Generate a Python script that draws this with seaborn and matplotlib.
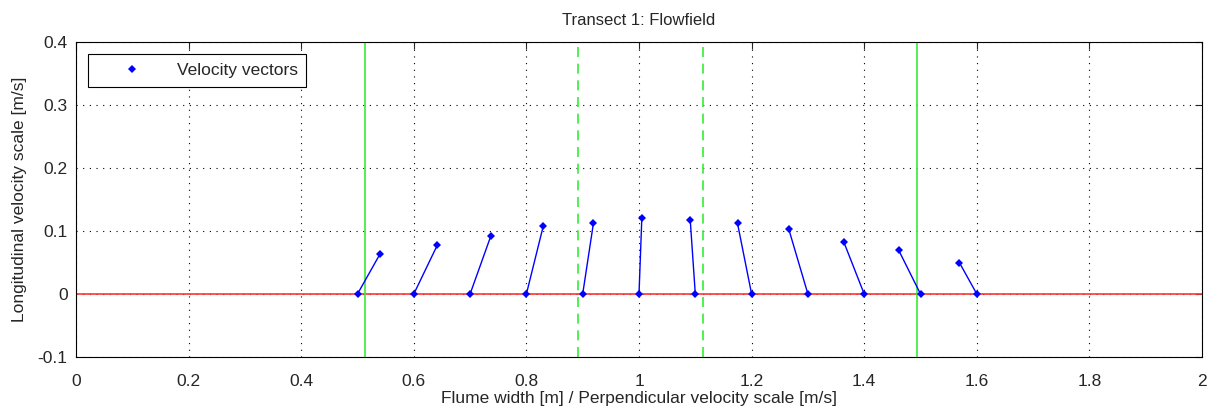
import numpy as np
import pandas as pd
import matplotlib
matplotlib.use('Agg')
import matplotlib.pyplot as plt
import seaborn as sns
from matplotlib.lines import Line2D

# vector bases (flume width) and tips
base_x = [0.5, 0.6, 0.7, 0.8, 0.9, 1.0, 1.1, 1.2, 1.3, 1.4, 1.5, 1.6]
tip_x = [0.540, 0.642, 0.737, 0.830, 0.919, 1.005, 1.091, 1.175, 1.266, 1.364, 1.461, 1.569]
tip_y = [0.0635, 0.078, 0.0925, 0.108, 0.112, 0.120, 0.1175, 0.112, 0.103, 0.082, 0.070, 0.050]
solid_walls = [0.513, 1.494]
dashed_walls = [0.892, 1.114]

rows = []
for i, (bx, tx, ty) in enumerate(zip(base_x, tip_x, tip_y)):
    rows.append({'vec': i, 'x': bx, 'y': 0.0})
    rows.append({'vec': i, 'x': tx, 'y': ty})
df = pd.DataFrame(rows)

sns.set_style('white')
plt.rcParams['font.family'] = ['Liberation Sans', 'DejaVu Sans']

fig = plt.figure(figsize=(12.28, 4.17), dpi=100)
ax = fig.add_axes([76 / 1228, 60 / 417, 1126 / 1228, 315 / 417])

ax.axhline(0, color='#ff3333', lw=1.2, zorder=1)
for w in solid_walls:
    ax.axvline(w, color='#33ee33', lw=1.2, zorder=1)
for w in dashed_walls:
    ax.axvline(w, color='#33ee33', lw=1.2, ls=(0, (6, 4)), zorder=1)

sns.lineplot(data=df, x='x', y='y', units='vec', estimator=None, sort=False,
             color='blue', lw=1, marker='D', markersize=4, markeredgewidth=0,
             legend=False, ax=ax, zorder=3)

ax.set_xlim(0, 2)
ax.set_ylim(-0.1, 0.4)
ax.set_xticks(np.arange(0, 2.01, 0.2))
ax.set_xticklabels(['0', '0.2', '0.4', '0.6', '0.8', '1', '1.2', '1.4', '1.6', '1.8', '2'])
ax.set_yticks([-0.1, 0, 0.1, 0.2, 0.3, 0.4])
ax.set_yticklabels(['-0.1', '0', '0.1', '0.2', '0.3', '0.4'])
ax.grid(True, color='black', ls=(0, (1, 5)), lw=0.8)
ax.tick_params(direction='in', top=True, right=True, length=5, labelsize=12.5)
ax.tick_params(axis='x', pad=12)
ax.tick_params(axis='y', pad=6)
for s in ax.spines.values():
    s.set_color('black')
    s.set_linewidth(0.8)

ax.set_title('Transect 1: Flowfield', fontsize=12, pad=12)
ax.set_xlabel('Flume width [m] / Perpendicular velocity scale [m/s]', fontsize=12.5, labelpad=2)
ax.set_ylabel('Longitudinal velocity scale [m/s]', fontsize=12.5, labelpad=8)

handle = Line2D([], [], color='blue', marker='D', ls='none', markersize=4, markeredgewidth=0)
leg = ax.legend([handle], ['Velocity vectors'], loc='upper left', fontsize=12.5,
                fancybox=False, framealpha=1, edgecolor='black',
                borderaxespad=0.7, borderpad=0.5, handlelength=4.0, handletextpad=0.6)
leg.get_frame().set_linewidth(0.8)

fig.savefig('out.png', dpi=100)
